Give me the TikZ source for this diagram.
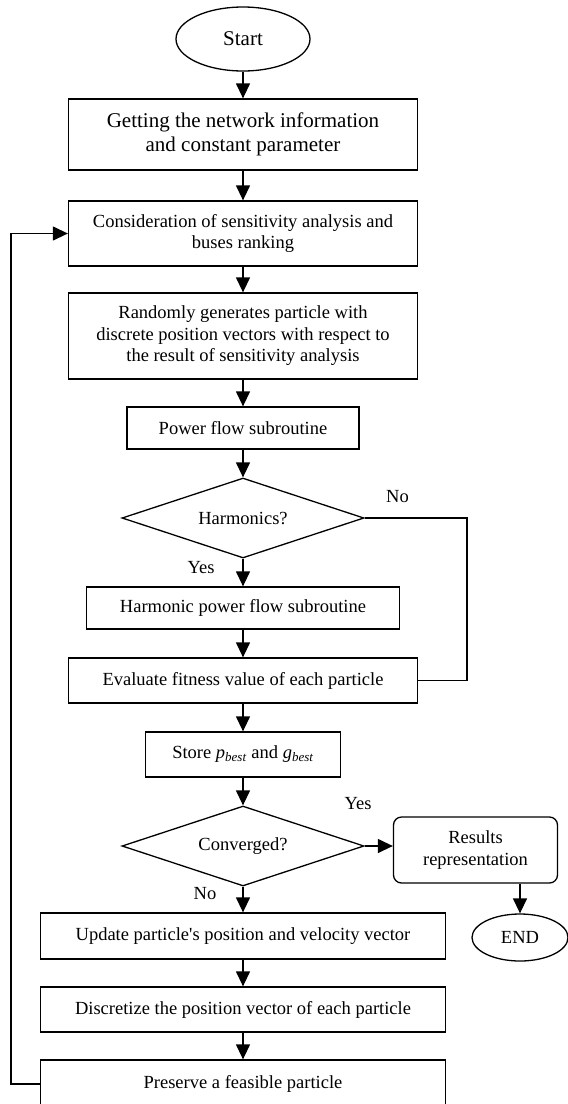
\documentclass[tikz,border=0pt]{standalone}
\usepackage{fontspec}
\setmainfont{Liberation Serif}
\usetikzlibrary{arrows.meta,shapes.geometric}

\begin{document}
\begin{tikzpicture}[x=1pt,y=-1pt,line width=1.3pt,
    >={Triangle[length=15pt,width=14pt]},
    every node/.style={font=\fontsize{18.5}{21.5}\selectfont,inner sep=0pt,align=center},
    box/.style={draw,rectangle},
    decision/.style={draw,diamond,aspect=3,minimum width=242,minimum height=80},
    terminal/.style={draw,ellipse}]
    \useasboundingbox (0,0) rectangle (568,1104);

    % Nodes
    \node[terminal,minimum width=134,minimum height=64,font=\fontsize{21}{24}\selectfont] (start) at (243,39) {Start};
    \node[box,minimum width=349,minimum height=71,font=\fontsize{21}{24}\selectfont] (getinfo) at (243,134.5)
        {Getting the network information\\and constant parameter};
    \node[box,minimum width=349,minimum height=65] (consider) at (243,233.5)
        {Consideration of sensitivity analysis and\\buses ranking};
    \node[box,minimum width=349,minimum height=86] (randgen) at (243,336)
        {Randomly generates particle with\\discrete position vectors with respect to\\the result of sensitivity analysis};
    \node[box,minimum width=232,minimum height=42] (powerflow) at (243,428) {Power flow subroutine};
    \node[decision] (harm) at (243,518) {Harmonics?};
    \node[box,minimum width=313,minimum height=42] (harmpf) at (243,608) {Harmonic power flow subroutine};
    \node[box,minimum width=349,minimum height=45] (evaluate) at (243,680.5) {Evaluate fitness value of each particle};
    \node[box,minimum width=195,minimum height=45] (store) at (243,754.5)
        {Store \textit{p}\textsubscript{\textit{best}} and \textit{g}\textsubscript{\textit{best}}};
    \node[decision] (conv) at (243,846) {Converged?};
    \node[box,rounded corners=8,minimum width=164,minimum height=66] (results) at (475.5,850)
        {Results\\representation};
    \node[terminal,minimum width=96,minimum height=47] (endnode) at (520,937.5) {END};
    \node[box,minimum width=405,minimum height=46] (update) at (243,936)
        {Update particle\textquotesingle s position and velocity vector};
    \node[box,minimum width=405,minimum height=45] (discretize) at (243,1009.5)
        {Discretize the position vector of each particle};
    \node[box,minimum width=405,minimum height=48] (preserve) at (243,1084) {Preserve a feasible particle};

    % Labels
    \node (harmno) at (397.5,497) {No};
    \node (harmyes) at (201,568) {Yes};
    \node (convyes) at (358,804) {Yes};
    \node (convno) at (205,894) {No};

    % Arrows
    \draw[->] (start) -- (getinfo);
    \draw[->] (getinfo) -- (consider);
    \draw[->] (consider) -- (randgen);
    \draw[->] (randgen) -- (powerflow);
    \draw[->] (powerflow) -- (harm);
    \draw[->] (harm) -- (harmpf);
    \draw[->] (harmpf) -- (evaluate);
    \draw[->] (evaluate) -- (store);
    \draw[->] (store) -- (conv);
    \draw[->] (conv) -- (update);
    \draw[->] (update) -- (discretize);
    \draw[->] (discretize) -- (preserve);
    \draw[->] (conv.east) -- (conv.east -| results.west);
    \draw[->] (results.south -| endnode.north) -- (endnode.north);

    % Bypass and loop back
    \coordinate (noturn) at (467,518);
    \draw (harm.east) -- (noturn) |- (evaluate.east);
    \coordinate (loopturn) at (11,1084);
    \draw[->] (preserve.west) -- (loopturn) |- (consider.west);
\end{tikzpicture}
\end{document}
